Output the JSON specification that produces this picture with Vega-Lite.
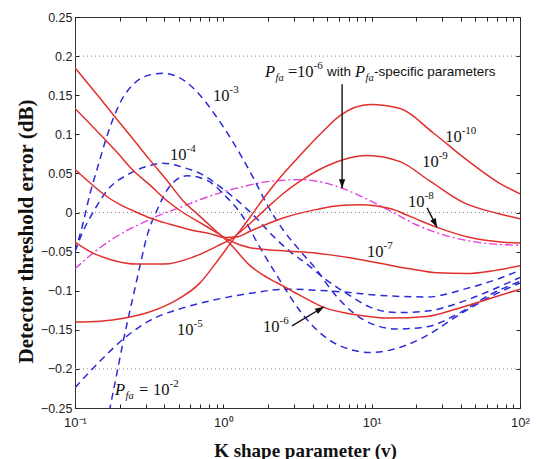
{
  "$schema": "https://vega.github.io/schema/vega-lite/v6.json",
  "autosize": {"type": "none"},
  "width": 445,
  "height": 391,
  "padding": {"left": 75, "top": 17, "right": 16, "bottom": 51},
  "background": "white",
  "config": {
    "view": {"stroke": "#333", "strokeWidth": 1},
    "axis": {"tickColor": "#222", "labelColor": "#222", "titleColor": "#111", "labelFont": "Liberation Sans", "labelFontSize": 12.5}
  },
  "datasets": {
    "curves": [
      {"pfa": "1e-2", "x": 0.1545, "y": -0.3},
      {"pfa": "1e-2", "x": 0.1722, "y": -0.25},
      {"pfa": "1e-2", "x": 0.192, "y": -0.205},
      {"pfa": "1e-2", "x": 0.2107, "y": -0.166},
      {"pfa": "1e-2", "x": 0.2461, "y": -0.108},
      {"pfa": "1e-2", "x": 0.2744, "y": -0.068},
      {"pfa": "1e-2", "x": 0.3058, "y": -0.03},
      {"pfa": "1e-2", "x": 0.3573, "y": 0.003},
      {"pfa": "1e-2", "x": 0.4371, "y": 0.034},
      {"pfa": "1e-2", "x": 0.5692, "y": 0.047},
      {"pfa": "1e-2", "x": 0.7767, "y": 0.041},
      {"pfa": "1e-2", "x": 1.059, "y": 0.019},
      {"pfa": "1e-2", "x": 1.296, "y": 0.0},
      {"pfa": "1e-2", "x": 1.768, "y": -0.045},
      {"pfa": "1e-2", "x": 2.412, "y": -0.087},
      {"pfa": "1e-2", "x": 3.29, "y": -0.126},
      {"pfa": "1e-2", "x": 4.152, "y": -0.148},
      {"pfa": "1e-2", "x": 5.492, "y": -0.166},
      {"pfa": "1e-2", "x": 7.152, "y": -0.175},
      {"pfa": "1e-2", "x": 9.754, "y": -0.179},
      {"pfa": "1e-2", "x": 13.31, "y": -0.176},
      {"pfa": "1e-2", "x": 22.22, "y": -0.16},
      {"pfa": "1e-2", "x": 39.46, "y": -0.13},
      {"pfa": "1e-2", "x": 62.87, "y": -0.108},
      {"pfa": "1e-2", "x": 100, "y": -0.09},

      {"pfa": "1e-3", "x": 0.1, "y": -0.05},
      {"pfa": "1e-3", "x": 0.1132, "y": -0.014},
      {"pfa": "1e-3", "x": 0.1262, "y": 0.024},
      {"pfa": "1e-3", "x": 0.1407, "y": 0.055},
      {"pfa": "1e-3", "x": 0.1644, "y": 0.098},
      {"pfa": "1e-3", "x": 0.2011, "y": 0.14},
      {"pfa": "1e-3", "x": 0.2539, "y": 0.166},
      {"pfa": "1e-3", "x": 0.3204, "y": 0.176},
      {"pfa": "1e-3", "x": 0.3922, "y": 0.178},
      {"pfa": "1e-3", "x": 0.5517, "y": 0.168},
      {"pfa": "1e-3", "x": 0.6965, "y": 0.15},
      {"pfa": "1e-3", "x": 0.879, "y": 0.125},
      {"pfa": "1e-3", "x": 1.162, "y": 0.09},
      {"pfa": "1e-3", "x": 1.586, "y": 0.045},
      {"pfa": "1e-3", "x": 2.001, "y": 0.008},
      {"pfa": "1e-3", "x": 2.527, "y": -0.022},
      {"pfa": "1e-3", "x": 3.29, "y": -0.049},
      {"pfa": "1e-3", "x": 4.283, "y": -0.074},
      {"pfa": "1e-3", "x": 5.492, "y": -0.102},
      {"pfa": "1e-3", "x": 7.492, "y": -0.128},
      {"pfa": "1e-3", "x": 10.22, "y": -0.143},
      {"pfa": "1e-3", "x": 14.84, "y": -0.149},
      {"pfa": "1e-3", "x": 23.64, "y": -0.146},
      {"pfa": "1e-3", "x": 39.46, "y": -0.128},
      {"pfa": "1e-3", "x": 62.87, "y": -0.105},
      {"pfa": "1e-3", "x": 100, "y": -0.088},

      {"pfa": "1e-4", "x": 0.1, "y": -0.05},
      {"pfa": "1e-4", "x": 0.1115, "y": -0.027},
      {"pfa": "1e-4", "x": 0.1322, "y": 0.0},
      {"pfa": "1e-4", "x": 0.1644, "y": 0.028},
      {"pfa": "1e-4", "x": 0.2349, "y": 0.05},
      {"pfa": "1e-4", "x": 0.3204, "y": 0.06},
      {"pfa": "1e-4", "x": 0.3922, "y": 0.063},
      {"pfa": "1e-4", "x": 0.5517, "y": 0.057},
      {"pfa": "1e-4", "x": 0.6965, "y": 0.05},
      {"pfa": "1e-4", "x": 0.95, "y": 0.033},
      {"pfa": "1e-4", "x": 1.162, "y": 0.02},
      {"pfa": "1e-4", "x": 1.586, "y": -0.003},
      {"pfa": "1e-4", "x": 2.163, "y": -0.03},
      {"pfa": "1e-4", "x": 2.818, "y": -0.05},
      {"pfa": "1e-4", "x": 3.668, "y": -0.066},
      {"pfa": "1e-4", "x": 4.702, "y": -0.083},
      {"pfa": "1e-4", "x": 6.826, "y": -0.104},
      {"pfa": "1e-4", "x": 9.754, "y": -0.121},
      {"pfa": "1e-4", "x": 14.84, "y": -0.128},
      {"pfa": "1e-4", "x": 23.64, "y": -0.126},
      {"pfa": "1e-4", "x": 39.46, "y": -0.115},
      {"pfa": "1e-4", "x": 62.87, "y": -0.1},
      {"pfa": "1e-4", "x": 100, "y": -0.083},

      {"pfa": "1e-5", "x": 0.1, "y": -0.224},
      {"pfa": "1e-5", "x": 0.1475, "y": -0.19},
      {"pfa": "1e-5", "x": 0.2174, "y": -0.16},
      {"pfa": "1e-5", "x": 0.3204, "y": -0.138},
      {"pfa": "1e-5", "x": 0.535, "y": -0.122},
      {"pfa": "1e-5", "x": 0.8136, "y": -0.113},
      {"pfa": "1e-5", "x": 1.445, "y": -0.104},
      {"pfa": "1e-5", "x": 2.689, "y": -0.098},
      {"pfa": "1e-5", "x": 3.842, "y": -0.099},
      {"pfa": "1e-5", "x": 6.826, "y": -0.102},
      {"pfa": "1e-5", "x": 11.39, "y": -0.106},
      {"pfa": "1e-5", "x": 23.64, "y": -0.108},
      {"pfa": "1e-5", "x": 43.99, "y": -0.097},
      {"pfa": "1e-5", "x": 73.4, "y": -0.084},
      {"pfa": "1e-5", "x": 100, "y": -0.074},

      {"pfa": "1e-6", "x": 0.1, "y": 0.185},
      {"pfa": "1e-6", "x": 0.1475, "y": 0.146},
      {"pfa": "1e-6", "x": 0.192, "y": 0.119},
      {"pfa": "1e-6", "x": 0.2461, "y": 0.094},
      {"pfa": "1e-6", "x": 0.3204, "y": 0.067},
      {"pfa": "1e-6", "x": 0.4173, "y": 0.041},
      {"pfa": "1e-6", "x": 0.535, "y": 0.015},
      {"pfa": "1e-6", "x": 0.6965, "y": -0.005},
      {"pfa": "1e-6", "x": 0.907, "y": -0.025},
      {"pfa": "1e-6", "x": 1.11, "y": -0.04},
      {"pfa": "1e-6", "x": 1.514, "y": -0.068},
      {"pfa": "1e-6", "x": 1.971, "y": -0.083},
      {"pfa": "1e-6", "x": 2.527, "y": -0.094},
      {"pfa": "1e-6", "x": 3.29, "y": -0.106},
      {"pfa": "1e-6", "x": 4.702, "y": -0.121},
      {"pfa": "1e-6", "x": 7.973, "y": -0.131},
      {"pfa": "1e-6", "x": 13.31, "y": -0.135},
      {"pfa": "1e-6", "x": 23.64, "y": -0.133},
      {"pfa": "1e-6", "x": 37.66, "y": -0.123},
      {"pfa": "1e-6", "x": 62.87, "y": -0.11},
      {"pfa": "1e-6", "x": 100, "y": -0.098},

      {"pfa": "1e-7", "x": 0.1, "y": 0.133},
      {"pfa": "1e-7", "x": 0.1475, "y": 0.1},
      {"pfa": "1e-7", "x": 0.192, "y": 0.077},
      {"pfa": "1e-7", "x": 0.2461, "y": 0.054},
      {"pfa": "1e-7", "x": 0.3204, "y": 0.035},
      {"pfa": "1e-7", "x": 0.4173, "y": 0.015},
      {"pfa": "1e-7", "x": 0.535, "y": 0.0},
      {"pfa": "1e-7", "x": 0.6965, "y": -0.013},
      {"pfa": "1e-7", "x": 0.907, "y": -0.026},
      {"pfa": "1e-7", "x": 1.11, "y": -0.036},
      {"pfa": "1e-7", "x": 1.514, "y": -0.045},
      {"pfa": "1e-7", "x": 2.527, "y": -0.049},
      {"pfa": "1e-7", "x": 4.283, "y": -0.052},
      {"pfa": "1e-7", "x": 7.152, "y": -0.058},
      {"pfa": "1e-7", "x": 11.39, "y": -0.065},
      {"pfa": "1e-7", "x": 18.15, "y": -0.072},
      {"pfa": "1e-7", "x": 27.61, "y": -0.077},
      {"pfa": "1e-7", "x": 43.99, "y": -0.078},
      {"pfa": "1e-7", "x": 62.87, "y": -0.075},
      {"pfa": "1e-7", "x": 100, "y": -0.068},

      {"pfa": "1e-8", "x": 0.1, "y": 0.055},
      {"pfa": "1e-8", "x": 0.1262, "y": 0.038},
      {"pfa": "1e-8", "x": 0.1545, "y": 0.024},
      {"pfa": "1e-8", "x": 0.2011, "y": 0.01},
      {"pfa": "1e-8", "x": 0.2619, "y": 0.0},
      {"pfa": "1e-8", "x": 0.3204, "y": -0.007},
      {"pfa": "1e-8", "x": 0.4371, "y": -0.015},
      {"pfa": "1e-8", "x": 0.5963, "y": -0.022},
      {"pfa": "1e-8", "x": 0.8136, "y": -0.027},
      {"pfa": "1e-8", "x": 1.027, "y": -0.032},
      {"pfa": "1e-8", "x": 1.256, "y": -0.031},
      {"pfa": "1e-8", "x": 1.514, "y": -0.024},
      {"pfa": "1e-8", "x": 2.527, "y": -0.007},
      {"pfa": "1e-8", "x": 4.283, "y": 0.004},
      {"pfa": "1e-8", "x": 6.123, "y": 0.009},
      {"pfa": "1e-8", "x": 8.354, "y": 0.01},
      {"pfa": "1e-8", "x": 13.31, "y": 0.005},
      {"pfa": "1e-8", "x": 18.15, "y": -0.005},
      {"pfa": "1e-8", "x": 27.61, "y": -0.019},
      {"pfa": "1e-8", "x": 46.08, "y": -0.032},
      {"pfa": "1e-8", "x": 76.91, "y": -0.038},
      {"pfa": "1e-8", "x": 100, "y": -0.039},

      {"pfa": "1e-9", "x": 0.1, "y": -0.038},
      {"pfa": "1e-9", "x": 0.1262, "y": -0.05},
      {"pfa": "1e-9", "x": 0.1722, "y": -0.06},
      {"pfa": "1e-9", "x": 0.2619, "y": -0.066},
      {"pfa": "1e-9", "x": 0.3983, "y": -0.066},
      {"pfa": "1e-9", "x": 0.6248, "y": -0.057},
      {"pfa": "1e-9", "x": 0.907, "y": -0.043},
      {"pfa": "1e-9", "x": 1.145, "y": -0.033},
      {"pfa": "1e-9", "x": 1.514, "y": -0.014},
      {"pfa": "1e-9", "x": 1.971, "y": 0.006},
      {"pfa": "1e-9", "x": 2.527, "y": 0.024},
      {"pfa": "1e-9", "x": 3.29, "y": 0.04},
      {"pfa": "1e-9", "x": 4.35, "y": 0.054},
      {"pfa": "1e-9", "x": 5.665, "y": 0.064},
      {"pfa": "1e-9", "x": 7.152, "y": 0.07},
      {"pfa": "1e-9", "x": 9.311, "y": 0.073},
      {"pfa": "1e-9", "x": 15.54, "y": 0.065},
      {"pfa": "1e-9", "x": 24.77, "y": 0.04},
      {"pfa": "1e-9", "x": 41.33, "y": 0.013},
      {"pfa": "1e-9", "x": 70.07, "y": -0.001},
      {"pfa": "1e-9", "x": 100, "y": -0.008},

      {"pfa": "1e-10", "x": 0.1, "y": -0.14},
      {"pfa": "1e-10", "x": 0.1475, "y": -0.139},
      {"pfa": "1e-10", "x": 0.2174, "y": -0.135},
      {"pfa": "1e-10", "x": 0.3204, "y": -0.127},
      {"pfa": "1e-10", "x": 0.4724, "y": -0.113},
      {"pfa": "1e-10", "x": 0.6965, "y": -0.09},
      {"pfa": "1e-10", "x": 0.879, "y": -0.066},
      {"pfa": "1e-10", "x": 1.162, "y": -0.035},
      {"pfa": "1e-10", "x": 1.514, "y": -0.006},
      {"pfa": "1e-10", "x": 1.971, "y": 0.024},
      {"pfa": "1e-10", "x": 2.606, "y": 0.052},
      {"pfa": "1e-10", "x": 3.29, "y": 0.073},
      {"pfa": "1e-10", "x": 4.487, "y": 0.1},
      {"pfa": "1e-10", "x": 6.123, "y": 0.124},
      {"pfa": "1e-10", "x": 9.754, "y": 0.138},
      {"pfa": "1e-10", "x": 15.54, "y": 0.133},
      {"pfa": "1e-10", "x": 25.94, "y": 0.102},
      {"pfa": "1e-10", "x": 43.99, "y": 0.067},
      {"pfa": "1e-10", "x": 73.4, "y": 0.037},
      {"pfa": "1e-10", "x": 100, "y": 0.024},

      {"pfa": "1e-6 specific", "x": 0.1, "y": -0.072},
      {"pfa": "1e-6 specific", "x": 0.1322, "y": -0.052},
      {"pfa": "1e-6 specific", "x": 0.1722, "y": -0.036},
      {"pfa": "1e-6 specific", "x": 0.2243, "y": -0.023},
      {"pfa": "1e-6 specific", "x": 0.2874, "y": -0.013},
      {"pfa": "1e-6 specific", "x": 0.3743, "y": -0.003},
      {"pfa": "1e-6 specific", "x": 0.4873, "y": 0.005},
      {"pfa": "1e-6 specific", "x": 0.6248, "y": 0.013},
      {"pfa": "1e-6 specific", "x": 0.8136, "y": 0.021},
      {"pfa": "1e-6 specific", "x": 1.059, "y": 0.028},
      {"pfa": "1e-6 specific", "x": 1.358, "y": 0.033},
      {"pfa": "1e-6 specific", "x": 1.768, "y": 0.038},
      {"pfa": "1e-6 specific", "x": 2.412, "y": 0.041},
      {"pfa": "1e-6 specific", "x": 3.29, "y": 0.042},
      {"pfa": "1e-6 specific", "x": 4.283, "y": 0.04},
      {"pfa": "1e-6 specific", "x": 6.123, "y": 0.032},
      {"pfa": "1e-6 specific", "x": 9.311, "y": 0.017},
      {"pfa": "1e-6 specific", "x": 13.31, "y": 0.002},
      {"pfa": "1e-6 specific", "x": 20.24, "y": -0.016},
      {"pfa": "1e-6 specific", "x": 33.79, "y": -0.031},
      {"pfa": "1e-6 specific", "x": 56.39, "y": -0.039},
      {"pfa": "1e-6 specific", "x": 100, "y": -0.042}
    ],
    "gridlines": [{"y": 0.2}, {"y": 0}, {"y": -0.2}],
    "arrows": [
      {"x": 6.32, "y": 0.164, "x2": 6.32, "y2": 0.031},
      {"x": 23.64, "y": 0.006, "x2": 27.61, "y2": -0.019},
      {"x": 2.9, "y": -0.145, "x2": 4.775, "y2": -0.1205}
    ],
    "powers": [
      {"x": 0.852, "y": 0.149, "base": "10", "sup": "-3"},
      {"x": 0.437, "y": 0.074, "base": "10", "sup": "-4"},
      {"x": 31.3, "y": 0.097, "base": "10", "sup": "-10"},
      {"x": 21.9, "y": 0.065, "base": "10", "sup": "-9"},
      {"x": 17.6, "y": 0.013, "base": "10", "sup": "-8"},
      {"x": 9.31, "y": -0.051, "base": "10", "sup": "-7"},
      {"x": 1.853, "y": -0.146, "base": "10", "sup": "-6"},
      {"x": 0.487, "y": -0.15, "base": "10", "sup": "-5"},
      {"x": 0.3357, "y": -0.227, "base": "10", "sup": "-2"},
      {"x": 3.14, "y": 0.18, "base": "10", "sup": "-6"}
    ],
    "psyms": [
      {"x": 1.91, "y": 0.18, "sym": "P", "sub": "fa"},
      {"x": 7.727, "y": 0.18, "sym": "P", "sub": "fa"},
      {"x": 0.1861, "y": -0.227, "sym": "P", "sub": "fa"}
    ],
    "equals": [
      {"x": 2.732, "y": 0.18, "t": "="},
      {"x": 0.2702, "y": -0.227, "t": "="}
    ],
    "words": [
      {"x": 5.003, "y": 0.18, "t": "with"},
      {"x": 10.38, "y": 0.18, "t": "-specific parameters"}
    ]
  },
  "resolve": {"axis": {"x": "independent", "y": "independent"}},
  "layer": [
    {
      "data": {"name": "gridlines"},
      "mark": {"type": "rule", "color": "#888", "strokeWidth": 1, "strokeDash": [1, 3]},
      "encoding": {
        "y": {"field": "y", "type": "quantitative", "scale": {"domain": [-0.25, 0.25], "nice": false, "zero": false}, "axis": null}
      }
    },
    {
      "data": {"name": "curves"},
      "transform": [{"filter": {"field": "pfa", "equal": "1e-6 specific"}}],
      "mark": {"type": "line", "color": "#e040dc", "strokeWidth": 1.4, "strokeDash": [8, 3, 2, 3], "interpolate": "monotone", "clip": true},
      "encoding": {
        "x": {"field": "x", "type": "quantitative", "scale": {"type": "log", "domain": [0.1, 100], "nice": false}, "axis": null},
        "y": {"field": "y", "type": "quantitative", "axis": null},
        "detail": {"field": "pfa"}
      }
    },
    {
      "data": {"name": "curves"},
      "transform": [{"filter": {"field": "pfa", "oneOf": ["1e-2", "1e-3", "1e-4", "1e-5"]}}],
      "mark": {"type": "line", "color": "#2a2ad8", "strokeWidth": 1.5, "strokeDash": [7, 5], "interpolate": "monotone", "clip": true},
      "encoding": {
        "x": {"field": "x", "type": "quantitative", "axis": null},
        "y": {"field": "y", "type": "quantitative", "axis": null},
        "detail": {"field": "pfa"}
      }
    },
    {
      "data": {"name": "curves"},
      "transform": [{"filter": {"field": "pfa", "oneOf": ["1e-6", "1e-7", "1e-8", "1e-9", "1e-10"]}}],
      "mark": {"type": "line", "color": "#e0302e", "strokeWidth": 1.5, "interpolate": "monotone", "clip": true},
      "encoding": {
        "x": {
          "field": "x", "type": "quantitative",
          "axis": {
            "orient": "bottom",
            "values": [0.1, 0.2, 0.3, 0.4, 0.5, 0.6, 0.7, 0.8, 0.9, 1, 2, 3, 4, 5, 6, 7, 8, 9, 10, 20, 30, 40, 50, 60, 70, 80, 90, 100],
            "labelExpr": "datum.value == 0.1 ? '10⁻¹' : datum.value == 1 ? '10⁰' : datum.value == 10 ? '10¹' : datum.value == 100 ? '10²' : ''",
            "labelFlush": false, "labelOverlap": false, "labelPadding": 12, "labelFontSize": 13,
            "tickSize": -4, "domain": false, "grid": false,
            "title": "K shape parameter (v)", "titleFont": "Liberation Serif", "titleFontSize": 19, "titleFontWeight": "bold",
            "titleX": 230, "titleY": 42, "titleBaseline": "middle", "titleAlign": "center"
          }
        },
        "y": {
          "field": "y", "type": "quantitative",
          "axis": {
            "orient": "left",
            "values": [-0.25, -0.2, -0.15, -0.1, -0.05, 0, 0.05, 0.1, 0.15, 0.2, 0.25],
            "format": "~g", "labelFlush": false, "labelOverlap": false, "labelPadding": 7,
            "tickSize": -4, "domain": false, "grid": false,
            "title": "Detector threshold error (dB)", "titleFont": "Liberation Serif", "titleFontSize": 21, "titleFontWeight": "bold",
            "titleAngle": 270, "titleX": -49, "titleY": 214, "titleBaseline": "middle", "titleAlign": "center"
          }
        },
        "detail": {"field": "pfa"}
      }
    },
    {
      "data": {"name": "arrows"},
      "mark": {"type": "rule", "color": "#111", "strokeWidth": 1.4},
      "encoding": {
        "x": {
          "field": "x", "type": "quantitative",
          "axis": {
            "orient": "top",
            "values": [0.1, 0.2, 0.3, 0.4, 0.5, 0.6, 0.7, 0.8, 0.9, 1, 2, 3, 4, 5, 6, 7, 8, 9, 10, 20, 30, 40, 50, 60, 70, 80, 90, 100],
            "labels": false, "tickSize": -4, "domain": false, "grid": false, "title": null
          }
        },
        "y": {
          "field": "y", "type": "quantitative",
          "axis": {
            "orient": "right",
            "values": [-0.25, -0.2, -0.15, -0.1, -0.05, 0, 0.05, 0.1, 0.15, 0.2, 0.25],
            "labels": false, "tickSize": -4, "domain": false, "grid": false, "title": null
          }
        },
        "x2": {"field": "x2"},
        "y2": {"field": "y2"}
      }
    },
    {
      "data": {"values": [{"x": 6.32, "y": 0.031}]},
      "mark": {"type": "point", "shape": "M0,0L0.35,1L-0.35,1Z", "size": 324, "filled": true, "color": "#111", "opacity": 1, "angle": 180},
      "encoding": {
        "x": {"field": "x", "type": "quantitative", "axis": null},
        "y": {"field": "y", "type": "quantitative", "axis": null}
      }
    },
    {
      "data": {"values": [{"x": 27.61, "y": -0.019}]},
      "mark": {"type": "point", "shape": "M0,0L0.35,1L-0.35,1Z", "size": 324, "filled": true, "color": "#111", "opacity": 1, "angle": 153},
      "encoding": {
        "x": {"field": "x", "type": "quantitative", "axis": null},
        "y": {"field": "y", "type": "quantitative", "axis": null}
      }
    },
    {
      "data": {"values": [{"x": 4.775, "y": -0.1205}]},
      "mark": {"type": "point", "shape": "M0,0L0.35,1L-0.35,1Z", "size": 324, "filled": true, "color": "#111", "opacity": 1, "angle": 59},
      "encoding": {
        "x": {"field": "x", "type": "quantitative", "axis": null},
        "y": {"field": "y", "type": "quantitative", "axis": null}
      }
    },
    {
      "data": {"name": "powers"},
      "mark": {"type": "text", "font": "Liberation Serif", "fontSize": 16.5, "align": "left", "baseline": "middle", "color": "#111"},
      "encoding": {
        "x": {"field": "x", "type": "quantitative", "axis": null},
        "y": {"field": "y", "type": "quantitative", "axis": null},
        "text": {"field": "base"}
      }
    },
    {
      "data": {"name": "powers"},
      "mark": {"type": "text", "font": "Liberation Serif", "fontSize": 11, "align": "left", "baseline": "middle", "color": "#111", "dx": 16.5, "dy": -6},
      "encoding": {
        "x": {"field": "x", "type": "quantitative", "axis": null},
        "y": {"field": "y", "type": "quantitative", "axis": null},
        "text": {"field": "sup"}
      }
    },
    {
      "data": {"name": "psyms"},
      "mark": {"type": "text", "font": "Liberation Serif", "fontSize": 16.5, "fontStyle": "italic", "align": "left", "baseline": "middle", "color": "#111"},
      "encoding": {
        "x": {"field": "x", "type": "quantitative", "axis": null},
        "y": {"field": "y", "type": "quantitative", "axis": null},
        "text": {"field": "sym"}
      }
    },
    {
      "data": {"name": "psyms"},
      "mark": {"type": "text", "font": "Liberation Serif", "fontSize": 10.5, "fontStyle": "italic", "align": "left", "baseline": "middle", "color": "#111", "dx": 10.5, "dy": 6},
      "encoding": {
        "x": {"field": "x", "type": "quantitative", "axis": null},
        "y": {"field": "y", "type": "quantitative", "axis": null},
        "text": {"field": "sub"}
      }
    },
    {
      "data": {"name": "equals"},
      "mark": {"type": "text", "font": "Liberation Serif", "fontSize": 16.5, "align": "left", "baseline": "middle", "color": "#111"},
      "encoding": {
        "x": {"field": "x", "type": "quantitative", "axis": null},
        "y": {"field": "y", "type": "quantitative", "axis": null},
        "text": {"field": "t"}
      }
    },
    {
      "data": {"name": "words"},
      "mark": {"type": "text", "font": "Liberation Sans", "fontSize": 13.5, "align": "left", "baseline": "middle", "color": "#111"},
      "encoding": {
        "x": {"field": "x", "type": "quantitative", "axis": null},
        "y": {"field": "y", "type": "quantitative", "axis": null},
        "text": {"field": "t"}
      }
    }
  ]
}
